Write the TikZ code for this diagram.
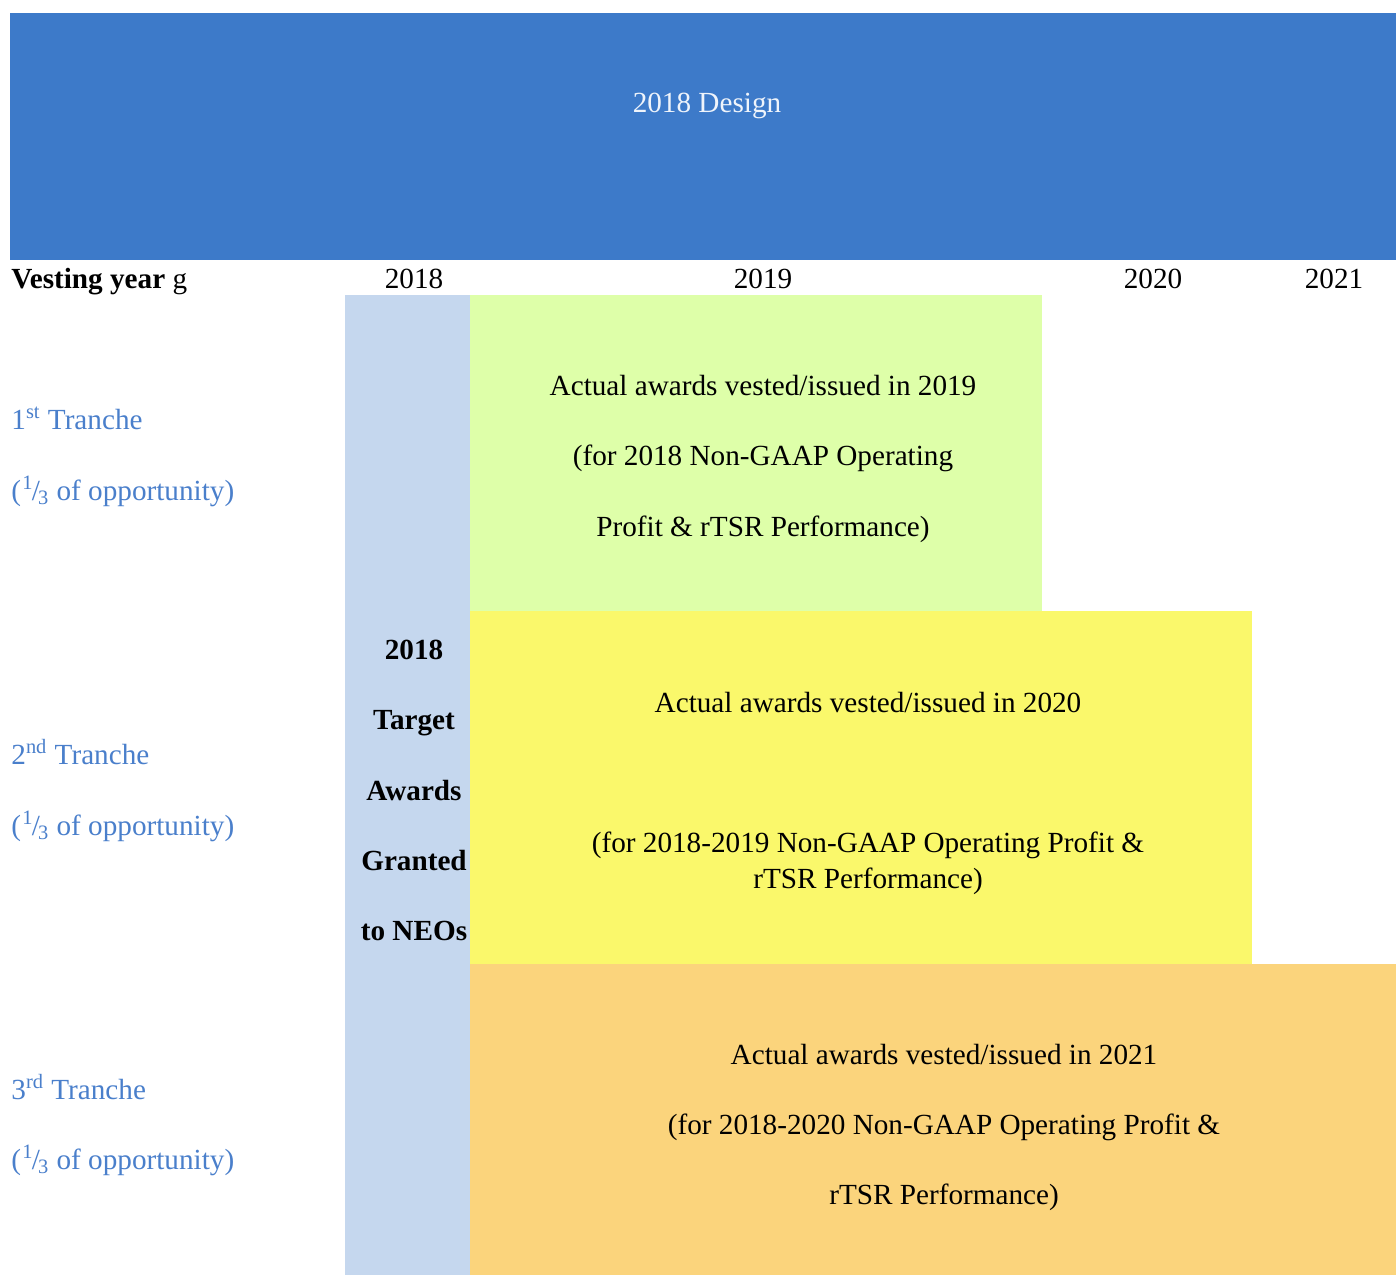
\documentclass[tikz,border=0pt]{standalone}
\usepackage{fontspec}
\setmainfont{Liberation Serif}

\definecolor{headblue}{RGB}{61,122,201}
\definecolor{grantblue}{RGB}{197,215,238}
\definecolor{firstgreen}{RGB}{222,255,169}
\definecolor{secondyellow}{RGB}{250,248,107}
\definecolor{thirdorange}{RGB}{251,212,124}
\definecolor{tranchetext}{RGB}{74,127,203}

\newcommand{\onethird}{\kern.04em\textsuperscript{1}\kern-.06em/\kern-.06em\textsubscript{3}}

\begin{document}
\begin{tikzpicture}[x=0.5pt,y=-0.5pt,
		txt/.style={anchor=base,inner sep=0pt,font=\fontsize{14.6}{17.5}\selectfont},
		tranche/.style={txt,anchor=base west,text=tranchetext},
		grant/.style={txt,font=\fontsize{14.6}{17.5}\selectfont\bfseries}]
			% Rahmen festlegen
			\useasboundingbox (0,0) rectangle (1396,1275);
			
			% Flaechen zeichnen
			\fill[headblue] (10,13) rectangle (1396,260);
			\fill[grantblue] (345,295) rectangle (470,1275);
			\fill[firstgreen] (470,295) rectangle (1042,611);
			\fill[secondyellow] (470,611) rectangle (1252,964);
			\fill[thirdorange] (470,964) rectangle (1396,1275);
			
			% Kopfzeile
			\node[txt,text=white!92!headblue] (design) at (707,112) {2018 Design};
			\node[txt,anchor=base west] (vesting) at (11,288) {\textbf{Vesting year} g};
			\node[txt] (year-2018) at (414,288) {2018};
			\node[txt] (year-2019) at (763,288) {2019};
			\node[txt] (year-2020) at (1153,288) {2020};
			\node[txt] (year-2021) at (1334,288) {2021};
			
			% Tranchen links
			\node[tranche] (tranche-1) at (11,429) {1\textsuperscript{st} Tranche};
			\node[tranche] (share-1) at (11,500) {(\onethird{} of opportunity)};
			\node[tranche] (tranche-2) at (11,764) {2\textsuperscript{nd} Tranche};
			\node[tranche] (share-2) at (11,835) {(\onethird{} of opportunity)};
			\node[tranche] (tranche-3) at (11,1099) {3\textsuperscript{rd} Tranche};
			\node[tranche] (share-3) at (11,1169) {(\onethird{} of opportunity)};
			
			% Zuteilung 2018
			\node[grant] (grant-a) at (414,659) {2018};
			\node[grant] (grant-b) at (414,729) {Target};
			\node[grant] (grant-c) at (414,800) {Awards};
			\node[grant] (grant-d) at (414,870) {Granted};
			\node[grant] (grant-e) at (414,940) {to NEOs};
			
			% erste Tranche
			\node[txt] (first-a) at (763,395) {Actual awards vested/issued in 2019};
			\node[txt] (first-b) at (763,465) {(for 2018 Non-GAAP Operating};
			\node[txt] (first-c) at (763,536) {Profit \& rTSR Performance)};
			
			% zweite Tranche
			\node[txt] (second-a) at (868,712) {Actual awards vested/issued in 2020};
			\node[txt] (second-b) at (868,852) {(for 2018-2019 Non-GAAP Operating Profit \&};
			\node[txt] (second-c) at (868,888) {rTSR Performance)};
			
			% dritte Tranche
			\node[txt] (third-a) at (944,1064) {Actual awards vested/issued in 2021};
			\node[txt] (third-b) at (944,1134) {(for 2018-2020 Non-GAAP Operating Profit \&};
			\node[txt] (third-c) at (944,1204) {rTSR Performance)};
	\end{tikzpicture}
\end{document}
